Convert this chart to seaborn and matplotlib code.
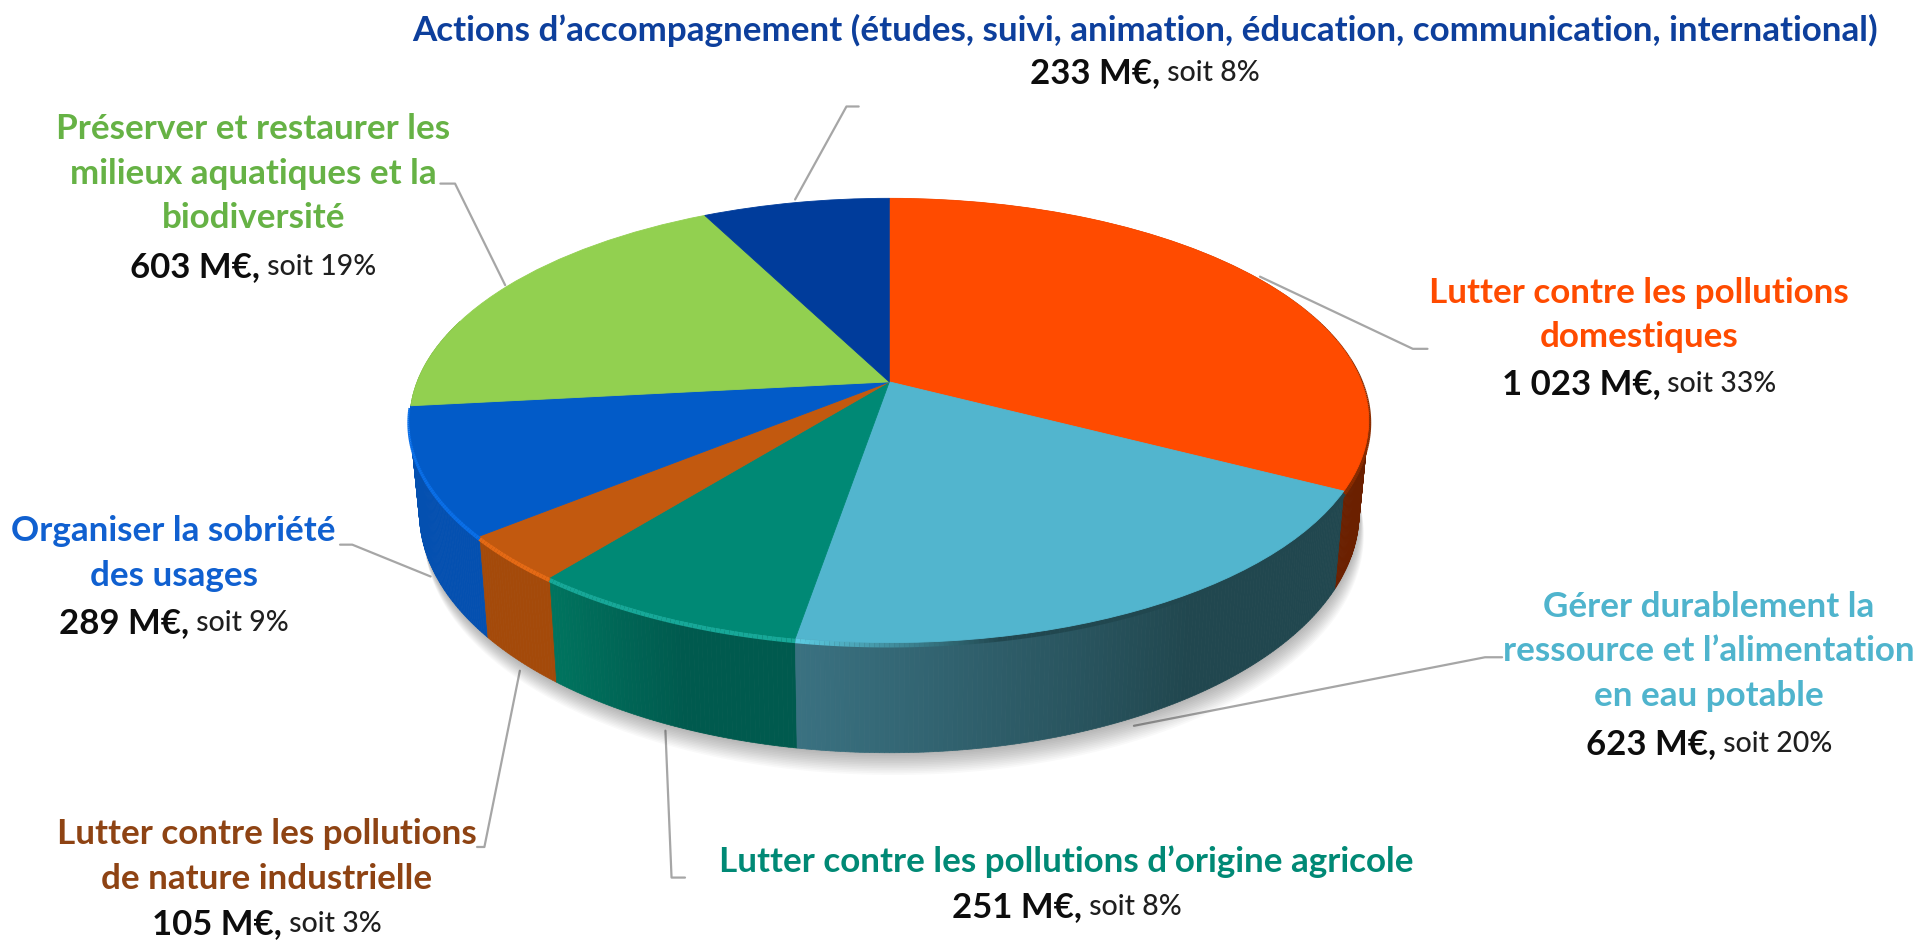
import numpy as np
import matplotlib
matplotlib.use("Agg")
import matplotlib.pyplot as plt
from matplotlib.colors import to_rgb
from matplotlib.transforms import Transform
import seaborn as sns

# postes de depense, en partant du haut et en tournant dans le sens horaire
values = [1023, 623, 251, 105, 289, 603, 233]
pcts = [33, 20, 8, 3, 9, 19, 8]
value_texts = ["1 023 M€,", "623 M€,", "251 M€,", "105 M€,", "289 M€,", "603 M€,", "233 M€,"]
labels = [
    ["Lutter contre les pollutions", "domestiques"],
    ["Gérer durablement la", "ressource et l’alimentation", "en eau potable"],
    ["Lutter contre les pollutions d’origine agricole"],
    ["Lutter contre les pollutions", "de nature industrielle"],
    ["Organiser la sobriété", "des usages"],
    ["Préserver et restaurer les", "milieux aquatiques et la", "biodiversité"],
    ["Actions d’accompagnement (études, suivi, animation, éducation, communication, international)"],
]
top_colors = ["#FF4B00", "#52B5CE", "#008975", "#C2590F", "#025BC8", "#92D050", "#003C9B"]
text_colors = ["#FF4B00", "#4FB4CD", "#008975", "#8E4313", "#1060D0", "#66B245", "#0D3F9C"]
side_start = ["#6B2000", "#3A7181", "#00745F", "#A44A0A", "#0450B0", "#6FA03C", "#002C75"]
side_end = ["#6B2000", "#21474F", "#005A4E", "#A44A0A", "#0450B0", "#6FA03C", "#002C75"]
rim_colors = ["#8A2C00", "#5CCBE2", "#17A898", "#E56A15", "#0A6FE8", "#92D050", "#003C9B"]

# positions des textes (x centre, y de chaque ligne), dans le repere 1568x768
text_x = [1340, 1397, 872, 218, 142, 207, 936]
text_y = [
    [239, 275, 314],
    [496, 532, 569, 608],
    [704, 741],
    [681, 718, 755],
    [434, 471, 509],
    [105, 142, 178, 218],
    [25, 60],
]
leaders = [
    [(1030, 226), (1155, 285), (1167, 285)],
    [(927, 593), (1214, 537), (1228, 537)],
    [(544, 597), (549, 717), (560, 717)],
    [(425, 548), (396, 692), (390, 692)],
    [(352, 471), (288, 445), (278, 445)],
    [(413, 233), (372, 150), (360, 150)],
    [(650, 163), (692, 87), (702, 87)],
]

CX, CY = 727, 312
RX, RY, PERSP = 386, 176, 0.1736
BOT_SCALE, BOT_STRETCH, BOT_SHIFT = 0.98, 1.08, 73


class Perspective(Transform):
    input_dims = 2
    output_dims = 2
    is_separable = False
    has_inverse = False

    def transform_non_affine(self, xy):
        xy = np.asarray(xy, dtype=float)
        w = 1 + PERSP * xy[:, 1]
        return np.column_stack([CX + RX * xy[:, 0] / w, CY - RY * xy[:, 1] / w])


persp = Perspective()


def top_edge(theta):
    t = np.radians(theta)
    return persp.transform_non_affine(np.column_stack([np.cos(t), np.sin(t)]))


def bottom_edge(theta):
    p = top_edge(theta)
    return np.column_stack([CX + (p[:, 0] - CX) * BOT_SCALE,
                            CY + (p[:, 1] - CY) * BOT_STRETCH + BOT_SHIFT])


sns.set_theme(style="white")
plt.rcParams["font.family"] = ["Lato", "DejaVu Sans"]

fig = plt.figure(figsize=(19.18, 9.4), dpi=100)
ax = fig.add_axes([0, 0, 1, 1])
palette = sns.color_palette(top_colors)

wedges, _ = ax.pie(values, colors=palette, startangle=90, counterclock=False,
                   wedgeprops={"linewidth": 0.6, "zorder": 5})
for w, col in zip(wedges, palette):
    w.set_edgecolor(col)
    w.set_transform(persp + ax.transData)
    w.set_clip_on(False)

ax.set_aspect("auto")
ax.set_xlim(0, 1568)
ax.set_ylim(768, 0)
ax.set_axis_off()

# ombre douce sous le disque
all_theta = np.linspace(0, 360, 361)
low = bottom_edge(all_theta)
for i in range(14):
    ax.fill(low[:, 0] + 0.3 * i, low[:, 1] + 1.4 * i, color="#000000", alpha=0.022, lw=0, zorder=1)

# paroi laterale, tranche par tranche
for w, s0, s1, rim, top in zip(wedges, side_start, side_end, rim_colors, top_colors):
    th = np.arange(w.theta1, w.theta2 + 0.5, 0.5)
    th[-1] = w.theta2
    a, b = top_edge(th), bottom_edge(th)
    c0, c1 = np.array(to_rgb(s0)), np.array(to_rgb(s1))
    rc = np.array(to_rgb(rim))
    for j in range(len(th) - 1):
        if np.sin(np.radians(th[j])) > 0.3:
            continue
        f = j / max(len(th) - 2, 1)
        col = c0 + (c1 - c0) * min(f * 1.7, 1)
        ax.fill([a[j, 0], a[j + 1, 0], b[j + 1, 0], b[j, 0]],
                [a[j, 1], a[j + 1, 1], b[j + 1, 1], b[j, 1]],
                color=col, lw=0.5, zorder=2 - np.sin(np.radians(th[j])) * 0.1)
    # lisere clair sur le bord avant
    if rim != top:
        for j in range(len(th) - 1):
            f = j / max(len(th) - 2, 1)
            col = rc
            if top == "#52B5CE":
                # sur la tranche bleu clair le lisere se fond dans la paroi vers la droite
                col = rc + (c1 - rc) * min(f * 3.5, 1)
            ax.plot(a[j:j + 2, 0], a[j:j + 2, 1] + 2, color=col, lw=3.6,
                    solid_capstyle="butt", zorder=3)

for pts in leaders:
    ax.plot(*zip(*pts), color="#A6A6A6", lw=1.6, zorder=0.5)

fig.canvas.draw()
rend = fig.canvas.get_renderer()


def value_line(x, y, bold, rest):
    a = ax.text(x, y, bold, fontsize=25, fontweight="bold", color="#0D0D0D", ha="left", va="center")
    b = ax.text(x, y, rest, fontsize=20.5, fontweight="medium", color="#1F1F1F", ha="left", va="center")
    wa = a.get_window_extent(rend).width * 1568 / 1918
    wb = b.get_window_extent(rend).width * 1568 / 1918
    a.set_x(x - (wa + wb) / 2)
    b.set_x(x - (wa + wb) / 2 + wa)


for i, lines in enumerate(labels):
    for line, y in zip(lines, text_y[i]):
        ax.text(text_x[i], y, line, color=text_colors[i], fontsize=25.2, fontweight="bold",
                ha="center", va="center")
    value_line(text_x[i], text_y[i][-1], value_texts[i], f" soit {pcts[i]}%")

fig.savefig("out.png", dpi=100, facecolor="white")
